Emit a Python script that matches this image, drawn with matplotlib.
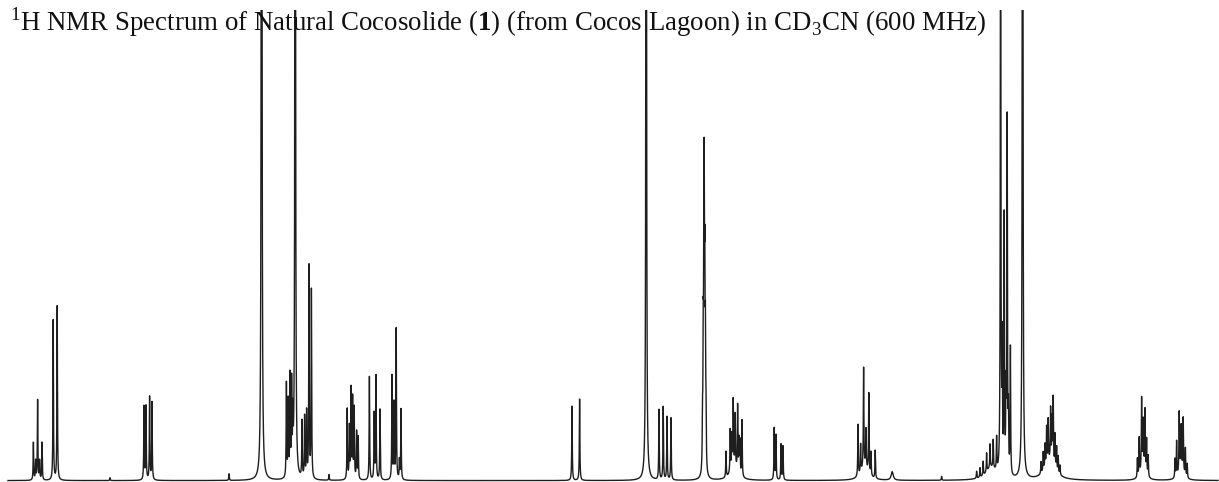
"""
1H NMR spectrum of natural cocosolide, redrawn as a sum of Lorentzian lines
"""

import matplotlib
matplotlib.use('Agg')  # Non-interactive backend
import numpy as np
import matplotlib.pyplot as plt

# ═══════════════════════════════════════════════════════════════════
# Peak list (shift in ppm, height in % of plot)
# ═══════════════════════════════════════════════════════════════════

# sharp multiplet lines
shifts = [
    6.428, 6.417, 6.407, 6.397, 6.385,          # dt
    6.329, 6.309,                               # d
    5.875, 5.865, 5.847, 5.835,                 # dd
    5.163, 5.154, 5.145, 5.137, 5.131,          # m
    5.085, 5.072, 5.062, 5.050, 5.038,          # m + d
    4.859, 4.848, 4.840, 4.832, 4.824, 4.812, 4.804,
    4.748, 4.724, 4.715, 4.695,
    4.635, 4.625, 4.614, 4.598, 4.590,
    3.735, 3.697,
    3.300, 3.279, 3.260, 3.240,
    3.0825, 3.079, 3.076, 3.074, 3.071, 3.068, 3.065,
    2.965, 2.944, 2.936, 2.929, 2.919, 2.907, 2.900, 2.895, 2.885,
    2.724, 2.715, 2.690, 2.680,
    2.305, 2.292, 2.277, 2.265, 2.251, 2.240, 2.219,
    1.712, 1.695, 1.679, 1.662, 1.645, 1.629, 1.612,
    1.584, 1.574, 1.565, 1.559, 1.553, 1.543,
    1.390, 1.379, 1.370, 1.362, 1.354, 1.342, 1.335, 1.329, 1.320, 1.312, 1.304, 1.295,
    0.908, 0.899, 0.887, 0.879, 0.870, 0.862, 0.854,
    0.720, 0.712, 0.699, 0.689, 0.679, 0.668, 0.659,
    6.045, 5.450, 4.950, 1.887,                 # tiny impurities
]
heights = [
    8, 4, 17, 4, 8,
    34, 37,
    15.6, 15.6, 17.6, 16.5,
    20, 16, 21, 19, 11,
    12, 13, 14, 45, 40,
    15, 11, 19, 17, 15, 10, 9,
    22, 14, 22, 15,
    22, 16, 32, 4, 15,
    15.8, 17.3,
    14.9, 15.5, 13.4, 13.2,
    10, 24, 35, 49, 35, 24, 11,
    5.5, 9, 7, 14, 11, 14, 7, 7, 12,
    11, 9.5, 7.6, 7.2,
    11, 6, 21, 8, 17, 5, 6,
    1.5, 2, 3, 4, 5, 6, 7,
    26, 54, 16, 75, 12, 27,
    2.5, 4, 5, 8, 9, 11, 9, 14, 7, 5, 3.5, 2,
    4, 8, 15, 9.5, 13, 7.5, 4.5,
    4, 7.5, 12.5, 8.5, 11.5, 6, 3,
    0.6, 1.4, 1.2, 0.8,
]

# tall singlets that run off the top of the plot
singlet_shifts = [5.287, 5.119, 3.364, 1.592, 1.482]
singlet_heights = [400, 320, 300, 160, 320]

# broad humps under the multiplets
broad_shifts = [2.134, 1.345, 1.640, 2.925, 2.272, 0.880, 0.690]
broad_heights = [1.8, 4, 2.5, 3, 3, 3, 3]
broad_widths = [0.006, 0.03, 0.03, 0.02, 0.02, 0.012, 0.012]

line_hw = 0.0015  # half width of the sharp lines, ppm

# ═══════════════════════════════════════════════════════════════════
# Build the spectrum
# ═══════════════════════════════════════════════════════════════════

ppm = np.linspace(6.555, 0.505, 60000)


def lorentz(x0, h, w):
    return h * w**2 / ((ppm - x0)**2 + w**2)


spectrum = np.zeros_like(ppm)
for x0, h in zip(shifts, heights):
    spectrum += lorentz(x0, h, line_hw)
for x0, h in zip(singlet_shifts, singlet_heights):
    spectrum += lorentz(x0, h, line_hw)
for x0, h, w in zip(broad_shifts, broad_heights, broad_widths):
    spectrum += lorentz(x0, h, w)

# ═══════════════════════════════════════════════════════════════════
# Plot
# ═══════════════════════════════════════════════════════════════════

plt.rcParams['mathtext.fontset'] = 'custom'
plt.rcParams['mathtext.rm'] = 'Liberation Serif'
plt.rcParams['mathtext.bf'] = 'Liberation Serif:bold'

fig = plt.figure(figsize=(12.19, 4.82), dpi=100, facecolor='white')
ax = fig.add_axes([0, 0, 1, 472 / 482])

ax.plot(ppm, spectrum, color='#1e1e1e', linewidth=1.0)

ax.set_xlim(6.595, 0.5)
ax.set_ylim(-0.3, 100)
ax.axis('off')

fig.text(10 / 1219, 1 - 31 / 482,
         r'$^{1}$H NMR Spectrum of Natural Cocosolide ($\mathbf{1}$) '
         r'(from Cocos Lagoon) in CD$_{3}$CN (600 MHz)',
         family='Liberation Serif', fontsize=19.4, color='#111111',
         ha='left', va='baseline')

plt.savefig('out.png', dpi=100, facecolor='white')
